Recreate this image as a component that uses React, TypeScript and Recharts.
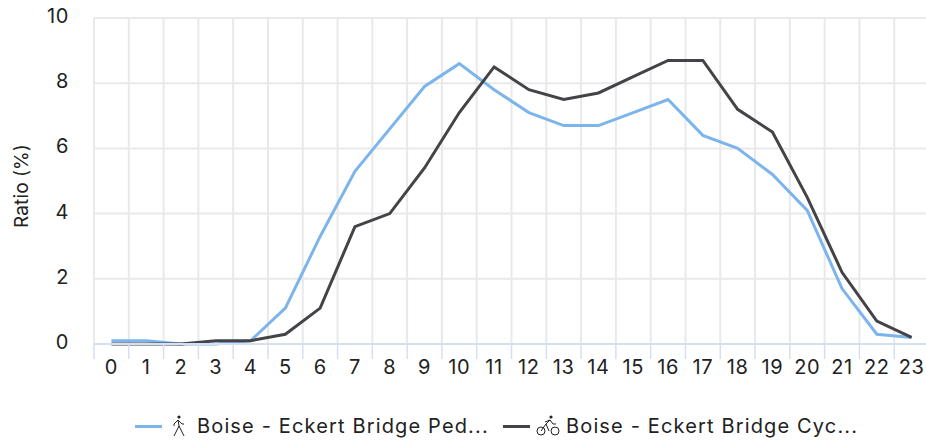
import React from 'react';
import { LineChart, Line, XAxis, YAxis, CartesianGrid, Legend } from 'recharts';

const hours = ['0','1','2','3','4','5','6','7','8','9','10','11','12','13','14','15','16','17','18','19','20','21','22','23'];
const pedestrian = [0.1,0.1,0,0,0.1,1.1,3.3,5.3,6.6,7.9,8.6,7.8,7.1,6.7,6.7,7.1,7.5,6.4,6,5.2,4.1,1.7,0.3,0.2];
const cyclist = [0,0,0,0.1,0.1,0.3,1.1,3.6,4,5.4,7.1,8.5,7.8,7.5,7.7,8.2,8.7,8.7,7.2,6.5,4.5,2.2,0.7,0.2];
const yTicks = [0,2,4,6,8,10];
const pedLabel = 'Boise - Eckert Bridge Ped...';
const cycLabel = 'Boise - Eckert Bridge Cyc...';

const data = hours.map((hour, i) => ({ hour, ped: pedestrian[i], cyc: cyclist[i] }));

const FONT = 'Inter, sans-serif';
const PED = '#7cb5ec';
const CYC = '#434348';
const GRID = '#e9e9e9';
const AXIS = '#d6dff0';
const TEXT = '#222';

const W = 929;
const H = 440;
const LEFT = 94;
const RIGHT = 0;
const BAND = (W - LEFT - RIGHT) / hours.length;

const HourTick = ({ x, y, payload }: any) => (
  <g>
    <line x1={x - BAND / 2} x2={x - BAND / 2} y1={y - 8} y2={y + 7} stroke={AXIS} strokeWidth={1.5} />
    <text x={x} y={y + 22} textAnchor="middle" fontFamily={FONT} fontSize={20} letterSpacing={0.6} fill={TEXT}>{payload.value}</text>
  </g>
);

const RatioTick = ({ y, payload }: any) => (
  <text x={69} y={y + 5} textAnchor="end" fontFamily={FONT} fontSize={20} letterSpacing={0.6} fill={TEXT}>{payload.value}</text>
);

const Walker = () => (
  <svg width={16} height={24} viewBox="0 0 16 24" fill="none" stroke="#222" strokeWidth={1}>
    <circle cx={8} cy={3} r={1.6} fill="#222" stroke="none" />
    <path d="M7 6 L3 10 L3 12 M7 6 L11 10 L13 10 M7 6 L8 12 L3 22 M8 12 L13 22" />
  </svg>
);

const Cyclist = () => (
  <svg width={24} height={24} viewBox="0 0 24 24" fill="none" stroke="#222" strokeWidth={1}>
    <circle cx={5} cy={17} r={4} />
    <circle cx={19} cy={17} r={4} />
    <circle cx={15} cy={3} r={1.6} fill="#222" stroke="none" />
    <path d="M5 17 L10 10 L14 6 L17 10 L20 10 M10 10 L13 17 M9 8 L14 6" />
  </svg>
);

const legendRow = (left: number, color: string, icon: React.ReactNode, label: string, iconGap: number, textGap: number) => (
  <div style={{ position: 'absolute', left, top: 0, height: 24, display: 'flex', alignItems: 'center' }}>
    <div style={{ width: 27, height: 3, background: color, marginRight: iconGap }} />
    {icon}
    <span style={{ marginLeft: textGap, fontFamily: FONT, fontSize: 20, letterSpacing: 1.15, color: TEXT, whiteSpace: 'nowrap' }}>{label}</span>
  </div>
);

const ChartLegend = () => (
  <div style={{ position: 'relative', height: 24 }}>
    {legendRow(135, PED, <Walker />, pedLabel, 9, 10)}
    {legendRow(503, CYC, <Cyclist />, cycLabel, 6, 6)}
  </div>
);

export default function App() {
  return (
    <div style={{ position: 'absolute', left: 0, top: 0, width: 926, height: 440, overflow: 'hidden', background: '#fff' }}>
      <LineChart width={W} height={H} data={data} margin={{ top: 18, right: RIGHT, bottom: 42, left: 0 }}>
        <CartesianGrid
          stroke={GRID}
          strokeWidth={2}
          verticalCoordinatesGenerator={() => hours.map((_, i) => LEFT + i * BAND).concat(W)}
        />
        <XAxis dataKey="hour" scale="band" interval={0} height={30} tick={<HourTick />} tickLine={false} stroke={AXIS} strokeWidth={2} />
        <YAxis
          width={LEFT}
          domain={[0, 10]}
          ticks={yTicks}
          tick={<RatioTick />}
          tickLine={false}
          axisLine={false}
          label={{ value: 'Ratio (%)', angle: -90, position: 'insideLeft', offset: 21, dy: 5, style: { fontFamily: FONT, fontSize: 19, letterSpacing: 0.1, fill: TEXT, textAnchor: 'middle' } }}
        />
        <Line dataKey="ped" name={pedLabel} stroke={PED} strokeWidth={3} dot={false} isAnimationActive={false} />
        <Line dataKey="cyc" name={cycLabel} stroke={CYC} strokeWidth={3} dot={false} isAnimationActive={false} />
        <Legend content={<ChartLegend />} wrapperStyle={{ left: 0, top: 414, width: 926, bottom: 'auto' }} />
      </LineChart>
    </div>
  );
}
